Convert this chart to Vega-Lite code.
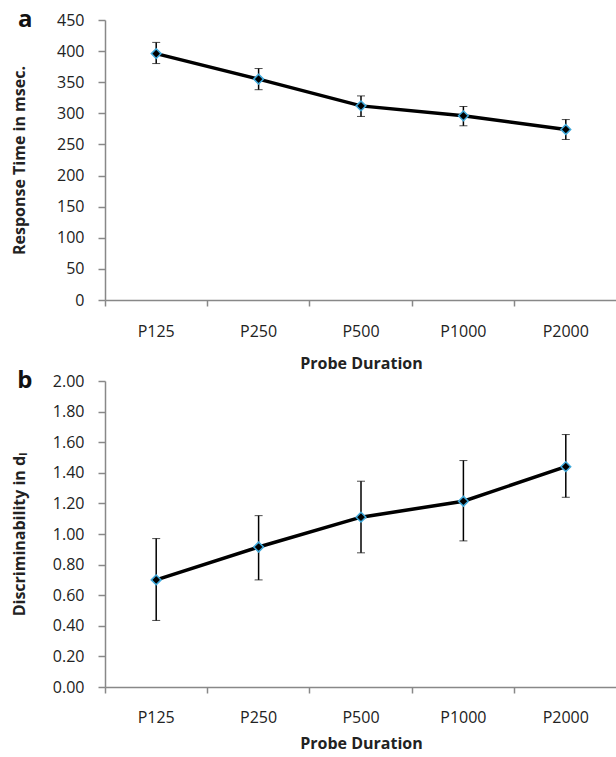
{
  "$schema": "https://vega.github.io/schema/vega-lite/v6.json",
  "padding": {"left": 11, "top": 8, "right": 0, "bottom": 0},
  "background": "white",
  "datasets": {
    "rt": [
      {"probe": "P125", "mean": 396, "lo": 380, "hi": 414},
      {"probe": "P250", "mean": 355, "lo": 338, "hi": 372},
      {"probe": "P500", "mean": 312, "lo": 295, "hi": 328},
      {"probe": "P1000", "mean": 296, "lo": 280, "hi": 311},
      {"probe": "P2000", "mean": 274, "lo": 258, "hi": 290}
    ],
    "disc": [
      {"probe": "P125", "mean": 0.70, "lo": 0.435, "hi": 0.97},
      {"probe": "P250", "mean": 0.915, "lo": 0.70, "hi": 1.12},
      {"probe": "P500", "mean": 1.11, "lo": 0.877, "hi": 1.345},
      {"probe": "P1000", "mean": 1.214, "lo": 0.955, "hi": 1.48},
      {"probe": "P2000", "mean": 1.44, "lo": 1.24, "hi": 1.65}
    ]
  },
  "config": {
    "view": {"stroke": null},
    "font": "Open Sans",
    "axis": {
      "grid": false,
      "domainColor": "#888888",
      "tickColor": "#888888",
      "domainWidth": 1.5,
      "tickWidth": 1.5,
      "labelFont": "Open Sans",
      "labelFontSize": 16,
      "labelColor": "#222222",
      "titleFont": "Open Sans",
      "titleFontSize": 16,
      "titleFontWeight": "bold",
      "titleColor": "#222222",
      "labelOverlap": false
    },
    "axisY": {"tickSize": 7, "labelPadding": 14},
    "axisX": {"tickSize": 6, "labelAngle": 0, "bandPosition": 0}
  },
  "vconcat": [
    {
      "width": 512,
      "height": 280,
      "title": {"text": "a", "orient": "left", "anchor": "end", "frame": "group", "angle": 0, "align": "left", "baseline": "middle", "fontSize": 24, "fontWeight": "bold", "font": "Open Sans", "color": "#111111", "offset": -21},
      "data": {"name": "rt"},
      "encoding": {
        "x": {"field": "probe", "type": "nominal", "sort": null, "scale": {"type": "band", "paddingInner": 0, "paddingOuter": 0}, "axis": {"title": "Probe Duration", "labelPadding": 17, "titlePadding": 16}}
      },
      "layer": [
        {
          "mark": {"type": "errorbar", "ticks": {"color": "black", "strokeWidth": 1.5, "size": 8}, "rule": {"color": "black", "strokeWidth": 1.5}},
          "encoding": {
            "y": {"field": "lo", "type": "quantitative", "scale": {"domain": [0, 450], "nice": false}, "axis": {"title": "Response Time in msec.", "values": [0, 50, 100, 150, 200, 250, 300, 350, 400, 450], "format": "d", "titlePadding": 29}},
            "y2": {"field": "hi"}
          }
        },
        {
          "mark": {"type": "line", "color": "black", "strokeWidth": 3.5},
          "encoding": {"y": {"field": "mean", "type": "quantitative", "scale": {"domain": [0, 450], "nice": false}, "axis": {"title": "Response Time in msec.", "values": [0, 50, 100, 150, 200, 250, 300, 350, 400, 450], "format": "d", "titlePadding": 29}}}
        },
        {
          "mark": {"type": "point", "shape": "diamond", "filled": true, "fill": "black", "stroke": "#3FA9DB", "strokeWidth": 1.5, "size": 95, "opacity": 1},
          "encoding": {"y": {"field": "mean", "type": "quantitative", "scale": {"domain": [0, 450], "nice": false}, "axis": {"title": "Response Time in msec.", "values": [0, 50, 100, 150, 200, 250, 300, 350, 400, 450], "format": "d", "titlePadding": 29}}}
        }
      ]
    },
    {
      "width": 512,
      "height": 306,
      "title": {"text": "b", "orient": "left", "anchor": "end", "frame": "group", "angle": 0, "align": "left", "baseline": "middle", "fontSize": 24, "fontWeight": "bold", "font": "Open Sans", "color": "#111111", "offset": -21},
      "data": {"name": "disc"},
      "encoding": {
        "x": {"field": "probe", "type": "nominal", "sort": null, "scale": {"type": "band", "paddingInner": 0, "paddingOuter": 0}, "axis": {"title": "Probe Duration", "labelPadding": 16, "titlePadding": 10}}
      },
      "layer": [
        {
          "mark": {"type": "errorbar", "ticks": {"color": "black", "strokeWidth": 1.5, "size": 8}, "rule": {"color": "black", "strokeWidth": 1.5}},
          "encoding": {
            "y": {"field": "lo", "type": "quantitative", "scale": {"domain": [0, 2], "nice": false}, "axis": {"title": "Discriminability in dₗ", "values": [0, 0.2, 0.4, 0.6, 0.8, 1.0, 1.2, 1.4, 1.6, 1.8, 2.0], "format": ".2f", "titlePadding": 25}},
            "y2": {"field": "hi"}
          }
        },
        {
          "mark": {"type": "line", "color": "black", "strokeWidth": 3.5},
          "encoding": {"y": {"field": "mean", "type": "quantitative", "scale": {"domain": [0, 2], "nice": false}, "axis": {"title": "Discriminability in dₗ", "values": [0, 0.2, 0.4, 0.6, 0.8, 1.0, 1.2, 1.4, 1.6, 1.8, 2.0], "format": ".2f", "titlePadding": 25}}}
        },
        {
          "mark": {"type": "point", "shape": "diamond", "filled": true, "fill": "black", "stroke": "#3FA9DB", "strokeWidth": 1.5, "size": 95, "opacity": 1},
          "encoding": {"y": {"field": "mean", "type": "quantitative", "scale": {"domain": [0, 2], "nice": false}, "axis": {"title": "Discriminability in dₗ", "values": [0, 0.2, 0.4, 0.6, 0.8, 1.0, 1.2, 1.4, 1.6, 1.8, 2.0], "format": ".2f", "titlePadding": 25}}}
        }
      ]
    }
  ],
  "spacing": 81,
  "bounds": "flush"
}
